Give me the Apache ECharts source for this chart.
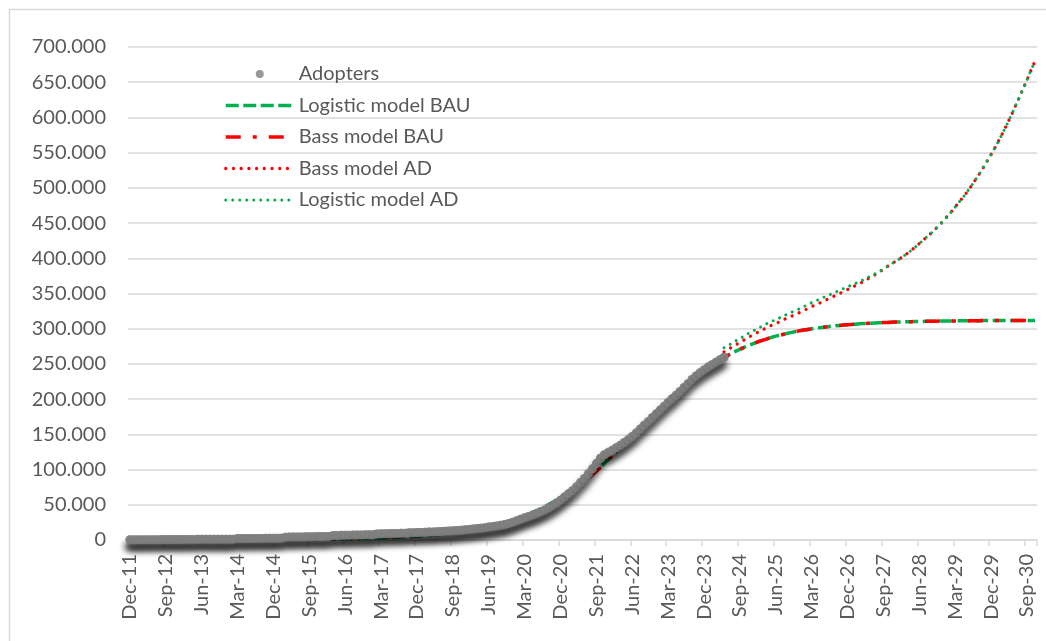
<!DOCTYPE html>
<html>
<head>
<meta charset="utf-8">
<script src="https://cdn.jsdelivr.net/npm/echarts@6/dist/echarts.min.js"></script>
<style>
html,body{margin:0;padding:0;background:#fff;}
#chart{width:1046px;height:641px;}
</style>
</head>
<body>
<div id="chart"></div>
<script>
// ---------- DATA (values in thousands) ----------
const MONTHS = ['Jan','Feb','Mar','Apr','May','Jun','Jul','Aug','Sep','Oct','Nov','Dec'];
const START_YEAR = 2011, START_MONTH = 11, N_MONTHS = 228; // Dec-11 .. Nov-30
const categories = [];
for (let i = 0; i < N_MONTHS; i++) {
  const m = (START_MONTH + i) % 12;
  const y = START_YEAR + Math.floor((START_MONTH + i) / 12);
  categories.push(MONTHS[m] + '-' + String(y % 100).padStart(2, '0'));
}

const yTicks = [0,50,100,150,200,250,300,350,400,450,500,550,600,650,700];

// Adopters, Dec-11 .. May-24
const adopters = [
0.3,0.3,0.4,0.4,0.4,0.5,0.5,0.5,0.6,0.6,
0.6,0.7,0.7,0.7,0.8,0.8,0.8,0.9,0.9,0.9,
1.0,1.0,1.0,1.1,1.1,1.1,1.2,2.0,2.1,2.1,
2.2,2.2,2.3,2.3,2.4,2.4,2.5,2.5,2.6,4.0,
4.1,4.2,4.3,4.4,4.5,4.6,4.7,4.8,4.9,5.0,
5.1,6.4,6.5,6.6,6.8,6.9,7.0,7.1,7.2,7.3,
7.4,7.5,8.6,8.8,9.0,9.1,9.3,9.4,9.5,9.7,
10.2,10.4,10.6,10.8,11.0,11.2,11.4,11.7,12.0,12.3,
12.7,13.1,13.5,14.0,14.5,15.0,15.6,16.2,16.8,17.5,
18.3,19.1,20.0,21.0,22.0,23.5,25.2,27.2,29.5,31.5,
33.5,35.5,37.5,40.0,42.5,45.5,49.0,52.5,56.5,61.0,
65.5,70.0,75.5,81.5,87.5,94.0,101.0,108.5,116.0,121.0,
124.5,127.5,131.0,134.5,138.5,142.5,147.0,152.0,157.5,163.0,
168.0,173.5,179.0,184.5,190.0,195.5,200.5,205.5,211.0,216.5,
222.0,228.0,233.0,237.5,241.5,245.5,249.0,252.5,256.0,259.5
];

// Logistic model BAU, Dec-11 .. Nov-30
const logisticBAU = [
0,0,0,0,0,0,0.1,0.1,0.1,0.1,
0.1,0.1,0.1,0.1,0.1,0.1,0.1,0.1,0.1,0.1,
0.1,0.1,0.1,0.1,0.2,0.2,0.2,0.2,0.2,0.2,
0.2,0.3,0.3,0.3,0.3,0.3,0.4,0.4,0.4,0.5,
0.5,0.5,0.6,0.6,0.7,0.7,0.8,0.8,0.9,1.0,
1.0,1.1,1.2,1.3,1.4,1.5,1.6,1.7,1.9,2.0,
2.2,2.3,2.5,2.7,2.9,3.1,3.3,3.6,3.9,4.2,
4.5,4.8,5.2,5.6,6.0,6.4,6.9,7.4,8.0,8.6,
9.2,9.9,10.6,11.4,12.2,13.1,14.1,15.1,16.2,17.4,
18.6,20.0,21.4,22.9,24.5,26.2,28.1,30.0,32.1,34.3,
36.6,39.0,41.6,44.3,47.2,50.2,53.4,56.8,60.3,63.9,
67.8,71.7,75.9,80.2,84.7,89.3,94.1,99.0,104.0,109.2,
114.5,119.9,125.4,130.9,136.6,142.2,148.0,153.7,159.5,165.2,
170.9,176.6,182.2,187.7,193.2,198.6,203.8,209.0,214.0,218.9,
223.6,228.2,232.7,236.9,241.1,245.0,248.8,252.4,255.9,259.2,
262.4,265.4,268.2,270.9,273.5,275.9,278.2,280.3,282.4,284.3,
286.1,287.8,289.4,290.9,292.3,293.6,294.8,296.0,297.1,298.1,
299.0,299.9,300.8,301.5,302.2,302.9,303.5,304.1,304.7,305.2,
305.7,306.1,306.5,306.9,307.3,307.6,307.9,308.2,308.5,308.7,
308.9,309.2,309.4,309.6,309.7,309.9,310.0,310.2,310.3,310.4,
310.5,310.6,310.7,310.8,310.9,311.0,311.0,311.1,311.2,311.2,
311.3,311.3,311.4,311.4,311.5,311.5,311.5,311.6,311.6,311.6,
311.7,311.7,311.7,311.8,311.8,311.8,311.8,311.8
];

// Bass model BAU, Dec-11 .. Nov-30
const bassBAU = [
0.2,0.2,0.2,0.2,0.2,0.2,0.2,0.2,0.2,0.2,
0.3,0.3,0.3,0.3,0.3,0.4,0.4,0.4,0.4,0.4,
0.5,0.5,0.5,0.5,0.6,0.6,0.6,0.7,0.7,0.7,
0.8,0.8,0.8,0.9,0.9,1.0,1.0,1.1,1.1,1.2,
1.2,1.3,1.4,1.4,1.5,1.6,1.7,1.8,1.9,2.0,
2.1,2.2,2.3,2.4,2.5,2.7,2.8,3.0,3.1,3.3,
3.5,3.7,3.9,4.1,4.3,4.5,4.8,5.0,5.3,5.6,
5.9,6.2,6.6,7.0,7.4,7.8,8.3,8.8,9.3,9.9,
10.5,11.1,11.8,12.5,13.3,14.1,15.0,15.9,16.9,18.0,
19.1,20.3,21.6,23.0,24.5,26.0,27.7,29.5,31.4,33.4,
35.6,37.9,40.3,42.9,45.6,48.5,51.6,54.8,58.2,61.8,
65.6,69.6,73.8,78.2,82.8,87.6,92.6,97.7,103.0,108.4,
114.0,119.7,125.4,131.2,137.0,142.8,148.6,154.4,160.2,165.9,
171.6,177.2,182.7,188.1,193.4,198.6,203.7,208.6,213.4,218.1,
223.2,227.8,232.3,236.6,240.8,244.8,248.6,252.2,255.7,259.0,
262.2,265.2,268.0,270.7,273.3,275.7,278.0,280.2,282.3,284.2,
286.0,287.7,289.3,290.8,292.2,293.5,294.8,296.0,297.1,298.1,
299.0,299.9,300.8,301.5,302.2,302.9,303.5,304.1,304.7,305.2,
305.7,306.1,306.5,306.9,307.3,307.6,307.9,308.2,308.5,308.7,
308.9,309.2,309.4,309.6,309.7,309.9,310.0,310.2,310.3,310.4,
310.5,310.6,310.7,310.8,310.9,311.0,311.0,311.1,311.2,311.2,
311.3,311.3,311.4,311.4,311.5,311.5,311.5,311.6,311.6,311.6,
311.7,311.7,311.7,311.8,311.8,311.8,311.8,311.8
];

// AD scenarios start at May-24 (index 149)
const AD_START = 149;
const bassAD = [
267,270.5,274,277.5,280.5,284,287.5,290.5,293.5,296.5,
299.5,302.5,305,307.5,310,313,315.5,318,320.5,323,
326,328.5,331.5,334,336.5,339.5,342,344.5,347.5,350,
353,355.5,358.5,361.5,364,367,370.5,374,377,380.5,
384.5,388.5,392,395.5,399,403,407,411.5,416,421,
426,431,436,441.5,447,453,459.5,466,473,480,
487,494.5,502.5,511,519.5,528.5,538,547.5,557.5,568,
579,590.5,602.5,615,627.5,640.5,653.5,667,680
];
const logisticAD = [
273,276,279.5,283,286,289.5,293,296,299,302,
305,308,310.5,313,315.5,318.5,321,323.5,326,328.5,
331.5,334,337,339.5,342,344.5,347,349.5,352,354.5,
357,359.5,362,364.5,367,369.5,372.5,375.5,378.5,381.5,
385,388.5,392,395.5,399,403,407,411.5,416,421,
426,431,436,441.5,447,453,459.5,466,473,480,
487,494.5,502.5,511,519.5,528.5,538,547.5,557.5,568,
579,590.5,602.5,615,627.5,640.5,653.5,667,680
];

function padFrom(start, arr) {
  const out = new Array(start).fill(null);
  return out.concat(arr);
}

// ---------- CHART ----------
const FONT = 'Lato';
const TXT = '#595959';
const GREEN = '#00B050', RED = '#FF0000', GREY = '#7F7F7F';
const hideSym = {opacity: 0, borderWidth: 0};

const chart = echarts.init(document.getElementById('chart'), null, {renderer: 'canvas'});
chart.setOption({
  animation: false,
  backgroundColor: '#ffffff',
  graphic: [{
    type: 'rect', silent: true, z: -10,
    shape: {x: 9.5, y: 9.5, width: 1100, height: 700},
    style: {fill: null, stroke: '#d9d9d9', lineWidth: 1.5}
  }],
  grid: {left: 128, right: 9, top: 47, bottom: 101, containLabel: false},
  legend: {
    orient: 'vertical', left: 219, top: 57,
    itemWidth: 68, itemHeight: 8, itemGap: 7.5,
    textStyle: {fontFamily: FONT, fontSize: 20, color: TXT, lineHeight: 24},
    data: [
      {name: 'Adopters', itemStyle: {shadowBlur: 0, shadowOffsetY: 0, shadowColor: 'transparent'}},
      {name: 'Logistic model BAU', itemStyle: hideSym, lineStyle: {width: 3.5, opacity: 1}},
      {name: 'Bass model BAU', itemStyle: hideSym, lineStyle: {width: 3.5, opacity: 1}},
      {name: 'Bass model AD', itemStyle: hideSym, lineStyle: {width: 3.3, opacity: 1}},
      {name: 'Logistic model AD', itemStyle: hideSym, lineStyle: {width: 3, opacity: 1}}
    ]
  },
  xAxis: {
    type: 'category', data: categories, boundaryGap: true,
    axisLine: {show: true, lineStyle: {color: '#d9d9d9', width: 1.5}},
    axisTick: {show: true, interval: 8, length: 6, lineStyle: {color: '#d9d9d9', width: 1.5}},
    axisLabel: {interval: 8, rotate: 90, margin: 14, fontFamily: FONT, fontSize: 20, color: TXT},
    splitLine: {show: false}
  },
  yAxis: {
    type: 'value', min: yTicks[0], max: yTicks[yTicks.length - 1], interval: 50,
    axisLine: {show: false}, axisTick: {show: false},
    axisLabel: {margin: 22, fontFamily: FONT, fontSize: 20, color: TXT,
      formatter: v => v === 0 ? '0' : v + '.000'},
    splitLine: {show: true, lineStyle: {color: '#d9d9d9', width: 1.5}}
  },
  series: [
    {
      // top layer: grey markers
      name: 'Adopters', type: 'scatter', data: adopters, z: 5,
      symbol: 'circle', symbolSize: 9,
      itemStyle: {color: GREY}
    },
    {
      // drop-shadow layer of the same markers (covered by the top layer, only its shadow shows)
      name: 'Adopters shadow', type: 'scatter', data: adopters, z: 3, silent: true,
      symbol: 'circle', symbolSize: 9,
      itemStyle: {color: GREY, shadowBlur: 6, shadowColor: 'rgba(0,0,0,0.9)', shadowOffsetY: 7, shadowOffsetX: -1}
    },
    {
      name: 'Logistic model BAU', type: 'line', data: logisticBAU, z: 2,
      symbol: 'none', showSymbol: false,
      itemStyle: {color: GREEN},
      lineStyle: {color: GREEN, width: 3.5, type: [13, 4.5]}
    },
    {
      name: 'Bass model BAU', type: 'line', data: bassBAU, z: 2,
      symbol: 'none', showSymbol: false,
      itemStyle: {color: RED},
      lineStyle: {color: RED, width: 3.5, type: [15, 12, 4, 12]}
    },
    {
      name: 'Bass model AD', type: 'line', data: padFrom(AD_START, bassAD), z: 2,
      symbol: 'none', showSymbol: false,
      itemStyle: {color: RED},
      lineStyle: {color: RED, width: 3.3, type: [0.01, 7.7], cap: 'round'}
    },
    {
      name: 'Logistic model AD', type: 'line', data: padFrom(AD_START, logisticAD), z: 2,
      symbol: 'none', showSymbol: false,
      itemStyle: {color: GREEN},
      lineStyle: {color: GREEN, width: 3, type: [0.01, 7], cap: 'round'}
    }
  ]
});
</script>
</body>
</html>
